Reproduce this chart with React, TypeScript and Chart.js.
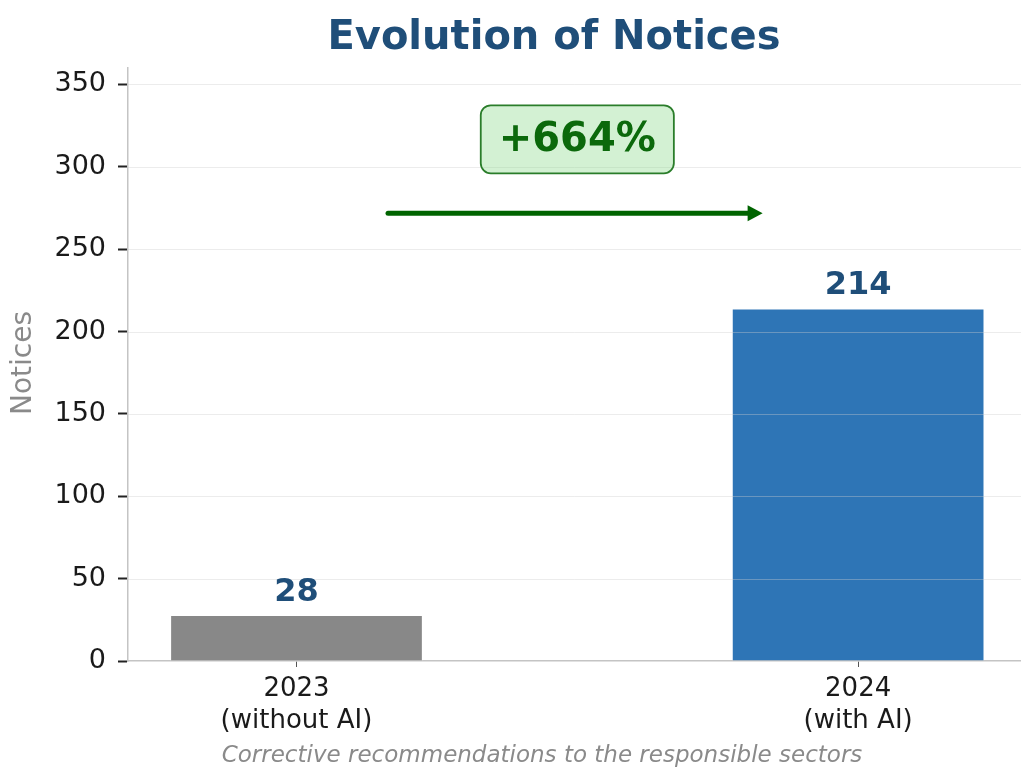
import React, { useEffect, useRef } from 'react';
import { Chart, registerables } from 'chart.js';

Chart.register(...registerables);

// ---- data ----
const categories = ['2023', '2024'];
const categorySubLabels = ['(without AI)', '(with AI)'];
const notices = [28, 214];
const barColors = ['#888888', '#2e75b6'];
const yTickStep = 50;
const yMax = 360;
const titleText = 'Evolution of Notices';
const subtitleText = 'Corrective recommendations to the responsible sectors';
const yTitleText = 'Notices';
const changePct = Math.round(((notices[1] - notices[0]) / notices[0]) * 100);
const changeLabel = `+${changePct}%`;

const FONT = '"DejaVu Sans", sans-serif';
const NAVY = '#1f4e79';
const DARKGREEN = '#006400';

const overlay = {
  id: 'overlay',
  afterDatasetsDraw(chart: any) {
    const { ctx, chartArea, scales } = chart;
    const x = scales.x;
    const y = scales.y;
    ctx.save();
    // grid lines drawn over the bars
    ctx.strokeStyle = 'rgba(205,205,205,0.38)';
    ctx.lineWidth = 1;
    y.ticks.forEach((t: any) => {
      if (t.value === 0) return;
      const py = Math.round(y.getPixelForValue(t.value)) + 0.5;
      ctx.beginPath();
      ctx.moveTo(chartArea.left, py);
      ctx.lineTo(chartArea.right, py);
      ctx.stroke();
    });
    // value labels
    const meta = chart.getDatasetMeta(0);
    ctx.font = `bold 32px ${FONT}`;
    ctx.fillStyle = NAVY;
    ctx.textAlign = 'center';
    ctx.textBaseline = 'alphabetic';
    meta.data.forEach((bar: any, i: number) => {
      ctx.fillText(String(notices[i]), bar.x, bar.y - 14);
    });
    // arrow
    const ay = y.getPixelForValue(notices[1] * 1.27);
    const ax0 = x.getPixelForValue(0.163);
    const ax1 = x.getPixelForValue(0.83);
    ctx.strokeStyle = DARKGREEN;
    ctx.fillStyle = DARKGREEN;
    ctx.lineWidth = 5;
    ctx.lineCap = 'round';
    ctx.beginPath();
    ctx.moveTo(ax0, ay);
    ctx.lineTo(ax1 - 10, ay);
    ctx.stroke();
    ctx.beginPath();
    ctx.moveTo(ax1, ay);
    ctx.lineTo(ax1 - 15, ay - 8);
    ctx.lineTo(ax1 - 15, ay + 8);
    ctx.closePath();
    ctx.fill();
    // change box
    const bx = x.getPixelForValue(0.5);
    const by = y.getPixelForValue(notices[1] * 1.48);
    ctx.font = `bold 40px ${FONT}`;
    const tw = ctx.measureText(changeLabel).width;
    const w = tw + 36;
    const h = 68;
    ctx.beginPath();
    (ctx as any).roundRect(bx - w / 2, by - h / 2, w, h, 10);
    ctx.fillStyle = 'rgba(144,220,144,0.4)';
    ctx.fill();
    ctx.lineWidth = 1.8;
    ctx.strokeStyle = '#2a7d2a';
    ctx.stroke();
    ctx.fillStyle = '#0b690b';
    ctx.textAlign = 'center';
    ctx.textBaseline = 'middle';
    ctx.fillText(changeLabel, bx, by + 1);
    ctx.restore();
  },
  afterDraw(chart: any) {
    const { ctx } = chart;
    ctx.save();
    ctx.font = `bold 40px ${FONT}`;
    ctx.fillStyle = NAVY;
    ctx.textAlign = 'center';
    ctx.textBaseline = 'alphabetic';
    ctx.fillText(titleText, 554, 49);

    ctx.font = `italic 23px ${FONT}`;
    ctx.fillStyle = '#8a8a8a';
    ctx.fillText(subtitleText, 542, 762);

    ctx.translate(24, 363);
    ctx.rotate(-Math.PI / 2);
    ctx.font = `28px ${FONT}`;
    ctx.fillStyle = '#8a8a8a';
    ctx.textBaseline = 'middle';
    ctx.fillText(yTitleText, 0, 0);
    ctx.restore();
  },
};

export default function App() {
  const ref = useRef<HTMLCanvasElement>(null);
  useEffect(() => {
    document.body.style.margin = '0';
    const chart = new Chart(ref.current!, {
      type: 'bar',
      data: {
        datasets: [
          {
            data: notices.map((v, i) => ({ x: i, y: v })),
            backgroundColor: barColors,
            borderColor: 'rgba(255,255,255,0.5)',
            borderWidth: 1,
            barPercentage: 0.45,
            categoryPercentage: 1,
          },
        ],
      },
      options: {
        responsive: false,
        animation: false,
        layout: { padding: { left: 8, top: 68, right: 0, bottom: 0 } },
        plugins: { legend: { display: false }, tooltip: { enabled: false }, title: { display: false } },
        scales: {
          x: {
            type: 'linear',
            offset: false,
            min: -0.3,
            max: 1.29,
            afterFit: (s: any) => {
              s.height = 108;
            },
            border: { color: '#c4c4c4', width: 1.5 },
            grid: { offset: false, drawOnChartArea: false, drawTicks: true, tickLength: 6, tickColor: '#555', tickWidth: 1 },
            ticks: {
              stepSize: 1,
              includeBounds: false,
              autoSkip: false,
              maxRotation: 0,
              padding: 7,
              color: '#1a1a1a',
              font: { family: FONT, size: 26, lineHeight: 1.2 },
              callback: (v: any) => {
                const i = Number(v);
                if (!Number.isInteger(i) || i < 0 || i >= categories.length) return '';
                return [categories[i], categorySubLabels[i]];
              },
            },
          },
          y: {
            min: 0,
            max: yMax,
            afterFit: (s: any) => {
              s.width = 120;
            },
            border: { color: '#c4c4c4', width: 1.5 },
            grid: { drawOnChartArea: false, drawTicks: true, tickLength: 10, tickColor: '#222', tickWidth: 2 },
            ticks: {
              stepSize: yTickStep,
              includeBounds: false,
              padding: 12,
              color: '#1a1a1a',
              font: { family: FONT, size: 27 },
            },
          },
        },
      },
      plugins: [overlay],
    });
    return () => chart.destroy();
  }, []);
  return (
    <div style={{ width: 1021, height: 769 }}>
      <canvas ref={ref} width={1021} height={769} style={{ display: 'block' }} />
    </div>
  );
}
